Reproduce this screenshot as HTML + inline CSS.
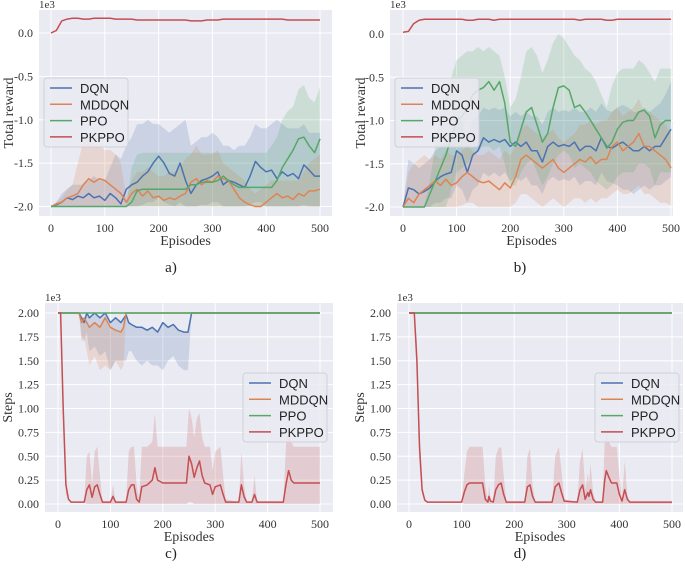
<!DOCTYPE html>
<html><head><meta charset="utf-8"><style>
body{margin:0;background:#fff;}
svg{display:block;font-family:"Liberation Serif",serif;}
</style></head><body>
<svg id="fig" width="685" height="573" viewBox="0 0 685 573" xmlns="http://www.w3.org/2000/svg"></svg>
<script>
// ---------- data (reward values in 1e3 units, steps in 1e3 units) ----------
const epsA = [0,10,20,30,40,50,60,70,80,90,100,110,120,130,140,150,160,170,180,190,200,210,220,230,240,250,260,270,280,290,300,310,320,330,340,350,360,370,380,390,400,410,420,430,440,450,460,470,480,490,500];
const aDQN = [-2.0,-1.98,-1.95,-1.9,-1.92,-1.88,-1.9,-1.85,-1.9,-1.88,-1.93,-1.85,-1.9,-1.97,-1.8,-1.75,-1.72,-1.65,-1.6,-1.5,-1.42,-1.5,-1.62,-1.65,-1.5,-1.7,-1.85,-1.75,-1.7,-1.68,-1.65,-1.6,-1.75,-1.7,-1.72,-1.75,-1.78,-1.65,-1.48,-1.55,-1.6,-1.58,-1.68,-1.6,-1.65,-1.62,-1.68,-1.52,-1.58,-1.65,-1.65];
const aDQNhi = [-2.0,-1.95,-1.85,-1.8,-1.75,-1.75,-1.75,-1.7,-1.65,-1.7,-1.7,-1.55,-1.4,-1.45,-1.3,-1.2,-1.05,-1.05,-1.0,-1.05,-1.05,-1.1,-1.15,-1.1,-1.05,-1.0,-1.3,-1.25,-1.2,-1.2,-1.15,-1.2,-1.3,-1.3,-1.35,-1.3,-1.3,-1.2,-1.05,-1.1,-1.1,-1.05,-1.0,-1.05,-1.1,-1.1,-1.1,-1.05,-1.15,-1.15,-1.15];
const aDQNlo = [-2.0,-2.0,-2.0,-2.0,-2.0,-2.0,-2.0,-2.0,-2.0,-2.0,-2.0,-2.0,-2.0,-2.0,-2.0,-2.0,-2.0,-1.98,-1.95,-1.95,-1.9,-1.95,-1.98,-2.0,-1.95,-2.0,-2.0,-2.0,-1.98,-1.98,-1.95,-1.95,-2.0,-2.0,-2.0,-2.0,-2.0,-1.98,-1.95,-1.95,-2.0,-2.0,-2.0,-2.0,-2.0,-2.0,-2.0,-1.98,-2.0,-2.0,-2.0];
const aMD = [-2.0,-1.97,-1.95,-1.9,-1.88,-1.85,-1.75,-1.68,-1.72,-1.68,-1.7,-1.75,-1.8,-1.85,-1.95,-1.85,-1.8,-1.88,-1.82,-1.9,-1.88,-1.93,-1.9,-1.92,-1.88,-1.85,-1.72,-1.68,-1.75,-1.7,-1.72,-1.65,-1.68,-1.7,-1.8,-1.9,-1.95,-1.98,-2.0,-2.0,-1.95,-1.9,-1.85,-1.9,-1.88,-1.92,-1.85,-1.88,-1.82,-1.82,-1.8];
const aMDhi = [-2.0,-1.95,-1.9,-1.8,-1.75,-1.5,-1.25,-1.2,-1.3,-1.3,-1.35,-1.35,-1.4,-1.5,-1.9,-1.7,-1.6,-1.6,-1.55,-1.6,-1.65,-1.65,-1.6,-1.6,-1.55,-1.45,-1.4,-1.3,-1.4,-1.4,-1.4,-1.35,-1.5,-1.55,-1.6,-1.65,-1.7,-1.8,-1.85,-1.8,-1.75,-1.7,-1.7,-1.7,-1.7,-1.7,-1.7,-1.6,-1.5,-1.45,-1.4];
const aMDlo = [-2.0,-2.0,-2.0,-2.0,-2.0,-2.0,-2.0,-2.0,-2.0,-2.0,-2.0,-2.0,-2.0,-2.0,-2.0,-2.0,-2.0,-2.0,-2.0,-2.0,-2.0,-2.0,-2.0,-2.0,-2.0,-2.0,-2.0,-2.0,-2.0,-2.0,-2.0,-2.0,-2.0,-2.0,-2.0,-2.0,-2.0,-2.0,-2.0,-2.0,-2.0,-2.0,-2.0,-2.0,-2.0,-2.0,-2.0,-2.0,-2.0,-2.0,-2.0];
const aPPO = [-2.0,-2.0,-2.0,-2.0,-2.0,-2.0,-2.0,-2.0,-2.0,-2.0,-2.0,-2.0,-2.0,-2.0,-2.0,-1.95,-1.82,-1.8,-1.8,-1.8,-1.8,-1.8,-1.8,-1.8,-1.8,-1.8,-1.75,-1.75,-1.72,-1.72,-1.72,-1.7,-1.65,-1.7,-1.75,-1.78,-1.78,-1.78,-1.78,-1.78,-1.78,-1.78,-1.7,-1.55,-1.45,-1.35,-1.22,-1.2,-1.3,-1.38,-1.22];
const aPPOhi = [-2.0,-2.0,-2.0,-2.0,-2.0,-2.0,-2.0,-2.0,-2.0,-2.0,-2.0,-2.0,-2.0,-2.0,-2.0,-1.55,-1.4,-1.38,-1.38,-1.38,-1.38,-1.38,-1.38,-1.38,-1.38,-1.38,-1.38,-1.38,-1.38,-1.38,-1.38,-1.38,-1.38,-1.38,-1.38,-1.38,-1.38,-1.38,-1.38,-1.38,-1.38,-1.3,-1.2,-1.0,-0.9,-0.85,-0.65,-0.6,-0.75,-0.8,-0.62];
const aPPOlo = [-2.0,-2.0,-2.0,-2.0,-2.0,-2.0,-2.0,-2.0,-2.0,-2.0,-2.0,-2.0,-2.0,-2.0,-2.0,-2.0,-2.0,-2.0,-2.0,-2.0,-2.0,-2.0,-2.0,-2.0,-2.0,-2.0,-2.0,-2.0,-2.0,-2.0,-2.0,-2.0,-2.0,-2.0,-2.0,-2.0,-2.0,-2.0,-2.0,-2.0,-2.0,-2.0,-2.0,-2.0,-2.0,-2.0,-2.0,-2.0,-2.0,-2.0,-2.0];
const aPK = [0.0,0.03,0.14,0.16,0.17,0.17,0.16,0.16,0.17,0.17,0.17,0.17,0.16,0.16,0.16,0.16,0.15,0.15,0.15,0.15,0.15,0.15,0.15,0.15,0.15,0.15,0.14,0.14,0.14,0.15,0.15,0.15,0.16,0.16,0.16,0.16,0.16,0.16,0.16,0.16,0.16,0.16,0.16,0.16,0.15,0.15,0.15,0.15,0.15,0.15,0.15];

const bDQN = [-2.0,-1.78,-1.8,-1.85,-1.82,-1.78,-1.7,-1.65,-1.62,-1.6,-1.35,-1.4,-1.6,-1.4,-1.35,-1.2,-1.25,-1.22,-1.25,-1.22,-1.3,-1.25,-1.3,-1.25,-1.35,-1.35,-1.48,-1.3,-1.25,-1.3,-1.28,-1.3,-1.25,-1.35,-1.3,-1.3,-1.35,-1.2,-1.3,-1.32,-1.28,-1.25,-1.3,-1.35,-1.35,-1.3,-1.35,-1.3,-1.3,-1.2,-1.1];
const bDQNhi = [-2.0,-1.45,-1.5,-1.55,-1.5,-1.45,-1.35,-1.3,-1.25,-1.2,-0.95,-1.0,-1.2,-1.0,-0.95,-0.85,-0.88,-0.85,-0.88,-0.85,-0.95,-0.9,-0.95,-0.9,-0.95,-0.95,-1.05,-0.9,-0.85,-0.9,-0.88,-0.9,-0.85,-0.9,-0.9,-0.85,-0.9,-0.8,-0.88,-0.9,-0.85,-0.82,-0.85,-0.9,-0.9,-0.85,-0.9,-0.85,-0.8,-0.7,-0.55];
const bDQNlo = [-2.0,-2.0,-2.0,-2.0,-2.0,-2.0,-1.95,-1.95,-1.9,-1.9,-1.75,-1.8,-1.95,-1.8,-1.75,-1.6,-1.65,-1.6,-1.65,-1.6,-1.7,-1.65,-1.7,-1.65,-1.75,-1.75,-1.85,-1.7,-1.65,-1.7,-1.68,-1.7,-1.65,-1.75,-1.7,-1.7,-1.75,-1.6,-1.7,-1.72,-1.75,-1.8,-1.8,-1.85,-1.8,-1.75,-1.8,-1.75,-1.75,-1.7,-1.65];
const bMD = [-2.0,-1.9,-1.95,-1.85,-1.8,-1.75,-1.7,-1.75,-1.68,-1.75,-1.72,-1.65,-1.6,-1.65,-1.7,-1.72,-1.7,-1.75,-1.8,-1.72,-1.78,-1.65,-1.45,-1.4,-1.45,-1.5,-1.55,-1.5,-1.45,-1.55,-1.6,-1.55,-1.5,-1.45,-1.48,-1.42,-1.5,-1.45,-1.45,-1.3,-1.25,-1.35,-1.3,-1.25,-1.15,-1.3,-1.3,-1.35,-1.4,-1.45,-1.55];
const bMDhi = [-2.0,-1.6,-1.5,-1.45,-1.4,-1.45,-1.4,-1.45,-1.35,-1.4,-1.4,-1.35,-1.3,-1.35,-1.4,-1.4,-1.35,-1.4,-1.45,-1.35,-1.4,-1.3,-1.1,-1.05,-1.1,-1.15,-1.2,-1.15,-1.1,-1.2,-1.25,-1.2,-1.15,-1.05,-1.05,-1.0,-1.05,-1.0,-1.0,-0.9,-0.85,-0.95,-0.9,-0.85,-0.75,-0.9,-0.9,-0.95,-1.0,-1.05,-1.15];
const bMDlo = [-2.0,-2.0,-2.0,-2.0,-2.0,-2.0,-2.0,-2.0,-2.0,-2.0,-2.0,-1.98,-1.95,-1.95,-2.0,-2.0,-2.0,-2.0,-2.0,-2.0,-2.0,-1.95,-1.85,-1.85,-1.9,-1.95,-2.0,-1.95,-1.9,-1.95,-2.0,-1.95,-1.9,-1.9,-1.95,-1.9,-1.95,-1.9,-1.9,-1.85,-1.8,-1.85,-1.85,-1.8,-1.75,-1.85,-1.85,-1.9,-1.95,-1.95,-1.98];
const bPPO = [-2.0,-2.0,-2.0,-2.0,-2.0,-1.85,-1.7,-1.55,-1.4,-1.2,-1.0,-0.95,-0.85,-0.7,-0.65,-0.62,-0.55,-0.65,-0.55,-0.8,-1.25,-1.3,-1.1,-0.9,-0.85,-1.05,-1.25,-1.15,-0.85,-0.62,-0.6,-0.65,-0.85,-0.82,-0.9,-1.0,-1.1,-1.2,-1.32,-1.25,-1.1,-1.02,-1.0,-1.0,-0.9,-0.88,-0.95,-1.2,-1.05,-1.0,-1.0];
const bPPOhi = [-2.0,-2.0,-2.0,-2.0,-2.0,-1.7,-1.3,-0.9,-0.7,-0.5,-0.3,-0.25,-0.2,-0.2,-0.15,-0.2,-0.15,-0.2,-0.25,-0.5,-0.85,-0.75,-0.5,-0.2,-0.15,-0.25,-0.45,-0.3,-0.1,0.0,-0.05,-0.15,-0.25,-0.3,-0.4,-0.45,-0.55,-0.7,-0.85,-0.6,-0.45,-0.4,-0.4,-0.4,-0.3,-0.35,-0.45,-0.55,-0.4,-0.4,-0.4];
const bPPOlo = [-2.0,-2.0,-2.0,-2.0,-2.0,-2.0,-2.0,-2.0,-2.0,-1.8,-1.6,-1.55,-1.5,-1.4,-1.35,-1.3,-1.3,-1.35,-1.3,-1.5,-1.75,-1.75,-1.6,-1.5,-1.45,-1.6,-1.75,-1.65,-1.5,-1.4,-1.35,-1.4,-1.55,-1.5,-1.55,-1.6,-1.7,-1.75,-1.8,-1.75,-1.65,-1.6,-1.6,-1.6,-1.5,-1.5,-1.55,-1.75,-1.6,-1.6,-1.6];
const bPK = [0.02,0.03,0.12,0.16,0.17,0.17,0.17,0.17,0.17,0.17,0.17,0.17,0.16,0.16,0.17,0.17,0.17,0.16,0.17,0.17,0.17,0.17,0.17,0.17,0.17,0.17,0.17,0.17,0.17,0.17,0.17,0.17,0.17,0.16,0.17,0.17,0.17,0.17,0.16,0.16,0.17,0.17,0.17,0.17,0.17,0.17,0.17,0.17,0.17,0.17,0.17];

const epsCPK = [0,5,10,15,20,25,50,55,60,65,70,75,80,85,100,105,110,130,135,140,145,150,155,160,170,180,185,190,200,245,250,255,260,265,270,275,280,290,295,300,310,315,320,345,350,355,360,370,375,380,430,435,440,445,450,500];
const cPK   = [2.0,2.0,1.0,0.2,0.05,0.02,0.02,0.15,0.2,0.07,0.18,0.2,0.1,0.02,0.02,0.08,0.02,0.02,0.15,0.2,0.2,0.05,0.02,0.18,0.2,0.25,0.38,0.25,0.22,0.22,0.5,0.42,0.28,0.38,0.45,0.3,0.22,0.2,0.1,0.18,0.2,0.1,0.02,0.02,0.2,0.08,0.02,0.02,0.1,0.02,0.02,0.2,0.35,0.25,0.22,0.22];
const cPKhi = [2.0,2.0,1.2,0.3,0.06,0.02,0.02,0.5,0.55,0.2,0.55,0.6,0.3,0.02,0.02,0.2,0.02,0.02,0.55,0.6,0.6,0.2,0.05,0.6,0.6,0.65,0.95,0.6,0.6,0.6,1.0,0.9,0.7,0.9,0.95,0.7,0.6,0.6,0.35,0.55,0.6,0.3,0.05,0.02,0.55,0.2,0.02,0.02,0.3,0.02,0.02,0.6,0.85,0.65,0.6,0.6];
const cPKlo = [2.0,2.0,0.8,0.1,0.04,0.02,0.02,0.0,0.0,0.0,0.0,0.0,0.0,0.0,0.0,0.0,0.0,0.0,0.0,0.0,0.0,0.0,0.0,0.0,0.0,0.0,0.0,0.0,0.0,0.0,0.02,0.02,0.0,0.0,0.0,0.0,0.0,0.0,0.0,0.0,0.0,0.0,0.0,0.0,0.0,0.0,0.0,0.0,0.0,0.0,0.0,0.0,0.0,0.0,0.0,0.0];
const epsCDQN = [0,40,45,50,55,60,70,80,90,100,110,120,130,135,140,150,160,170,180,190,200,210,220,230,240,248,255,500];
const cDQN   = [2.0,2.0,1.95,1.9,2.0,1.95,2.0,1.95,2.0,1.9,1.95,1.9,1.98,1.9,1.88,1.85,1.85,1.82,1.85,1.8,1.9,1.85,1.88,1.82,1.8,1.8,2.0,2.0];
const cDQNlo = [2.0,2.0,1.75,1.7,1.8,1.6,1.65,1.55,1.6,1.4,1.5,1.5,1.5,1.6,1.6,1.5,1.45,1.5,1.45,1.45,1.4,1.5,1.55,1.45,1.4,1.4,2.0,2.0];
const epsCMD = [0,40,45,50,60,70,80,90,100,110,120,125,130,500];
const cMD   = [2.0,2.0,1.9,1.95,1.85,1.9,1.85,1.95,1.85,1.82,1.8,1.85,2.0,2.0];
const cMDlo = [2.0,2.0,1.7,1.75,1.45,1.55,1.4,1.45,1.4,1.5,1.4,1.45,2.0,2.0];
const epsFlat = [0,500];
const flatPPO = [2.0,2.0];

const epsDPK = [0,10,15,20,25,30,35,100,105,110,115,140,145,150,152,155,160,165,170,175,180,185,220,225,230,235,240,272,278,285,290,295,320,325,330,335,340,342,345,350,355,368,372,375,380,385,395,400,405,410,415,420,500];
const dPK   = [2.0,2.0,1.5,0.6,0.15,0.04,0.02,0.02,0.12,0.2,0.22,0.22,0.05,0.02,0.08,0.03,0.02,0.15,0.2,0.22,0.1,0.02,0.02,0.18,0.2,0.08,0.02,0.02,0.18,0.22,0.12,0.03,0.02,0.15,0.2,0.05,0.12,0.08,0.15,0.05,0.02,0.02,0.25,0.35,0.28,0.22,0.22,0.1,0.03,0.15,0.05,0.02,0.02];
const dPKhi = [2.0,2.0,1.7,0.8,0.2,0.05,0.02,0.02,0.3,0.55,0.6,0.6,0.2,0.05,0.2,0.05,0.02,0.5,0.58,0.6,0.3,0.02,0.02,0.5,0.58,0.2,0.02,0.02,0.5,0.6,0.35,0.05,0.02,0.45,0.58,0.15,0.32,0.2,0.42,0.12,0.02,0.02,0.65,0.75,0.65,0.6,0.6,0.3,0.05,0.45,0.1,0.02,0.02];
const dPKlo = [2.0,2.0,1.3,0.4,0.1,0.03,0.02,0.02,0.0,0.0,0.0,0.0,0.0,0.0,0.0,0.0,0.0,0.0,0.0,0.0,0.0,0.0,0.0,0.0,0.0,0.0,0.0,0.0,0.0,0.0,0.0,0.0,0.0,0.0,0.0,0.0,0.0,0.0,0.0,0.0,0.0,0.0,0.0,0.0,0.0,0.0,0.0,0.0,0.0,0.0,0.0,0.0,0.0];

const xTicks = [0,100,200,300,400,500];
const rewardTicks = [0.0,-0.5,-1.0,-1.5,-2.0];
const rewardTickLabels = ["0.0","-0.5","-1.0","-1.5","-2.0"];
const stepTicks = [2.0,1.75,1.5,1.25,1.0,0.75,0.5,0.25,0.0];
const stepTickLabels = ["2.00","1.75","1.50","1.25","1.00","0.75","0.50","0.25","0.00"];
const legendNames = ["DQN","MDDQN","PPO","PKPPO"];

// ---------- drawing ----------
const NS = "http://www.w3.org/2000/svg";
const fig = document.getElementById("fig");
const COL = {DQN:"#4c72b0",MDDQN:"#dd8452",PPO:"#55a868",PKPPO:"#c44e52"};
function mk(tag, attrs, parent){const e=document.createElementNS(NS,tag);for(const k in attrs)e.setAttribute(k,attrs[k]);(parent||fig).appendChild(e);return e;}

function panel(p){
  const g = mk("g",{});
  
  
  const sx = ep => p.x0 + (ep/500)*(p.x500 - p.x0);
  const sy = v => p.yA + (v - p.vA)/(p.vB - p.vA)*(p.yB - p.yA);
  const bg = mk("rect",{x:p.L,y:p.T,width:p.R-p.L,height:p.B-p.T,fill:"#eaeaf2"},g);
  
  
  xTicks.forEach(t=>{
    mk("line",{x1:sx(t),x2:sx(t),y1:p.T,y2:p.B,stroke:"#fff","stroke-width":1},g);
    const tx = mk("text",{x:sx(t),y:p.B+16,"font-size":12,"text-anchor":"middle",fill:"#333"},g);
    tx.textContent = t;
    
    
  });
  p.yTicks.forEach((t,i)=>{
    mk("line",{x1:p.L,x2:p.R,y1:sy(t),y2:sy(t),stroke:"#fff","stroke-width":1},g);
    const ty = mk("text",{x:p.L-6,y:sy(t)+4,"font-size":12,"text-anchor":"end",fill:"#333"},g);
    ty.textContent = p.yLabels[i];
    
    
  });
  const ex = mk("text",{x:p.L,y:p.T-2,"font-size":11,fill:"#333"},g);
  ex.textContent = "1e3";
  
  
  const xl = mk("text",{x:(p.L+p.R)/2,y:p.B+29,"font-size":14,"text-anchor":"middle",fill:"#333"},g);
  xl.textContent = "Episodes";
  
  
  const yl = mk("text",{x:0,y:0,"font-size":14,"text-anchor":"middle",fill:"#333",transform:`translate(${p.ylx},${(p.T+p.B)/2}) rotate(-90)`},g);
  yl.textContent = p.ytitle;
  
  
  const cap = mk("text",{x:p.capX,y:p.capY,"font-size":15,"text-anchor":"middle",fill:"#222"},g);
  cap.textContent = p.caption;
  
  
  // bands
  p.series.forEach(s=>{
    if(!s.hi && !s.lo) return;
    const hi = s.hi || s.y, lo = s.lo || s.y;
    let d = "M" + s.x.map((e,i)=>sx(e).toFixed(1)+","+sy(hi[i]).toFixed(1)).join("L");
    for(let i=s.x.length-1;i>=0;i--) d += "L"+sx(s.x[i]).toFixed(1)+","+sy(lo[i]).toFixed(1);
    const b = mk("path",{d:d+"Z",fill:COL[s.k],"fill-opacity":0.2,stroke:"none"},g);
    
    
  });
  p.series.forEach(s=>{
    const d = "M" + s.x.map((e,i)=>sx(e).toFixed(1)+","+sy(s.y[i]).toFixed(1)).join("L");
    const l = mk("path",{d:d,fill:"none",stroke:COL[s.k],"stroke-width":1.5,"stroke-linejoin":"round"},g);
    
    
  });
  // legend
  const lg = mk("g",{},g);
  
  
  mk("rect",{x:p.lgX,y:p.lgY,width:84,height:69,rx:3,fill:"#eaeaf2","fill-opacity":0.85,stroke:"#d0d0d8"},lg);
  legendNames.forEach((n,i)=>{
    const yy = p.lgY + 10 + i*16.3;
    mk("line",{x1:p.lgX+6,x2:p.lgX+28,y1:yy,y2:yy,stroke:COL[n],"stroke-width":1.5},lg);
    const t = mk("text",{x:p.lgX+36,y:yy+5,"font-size":13,"font-family":"Liberation Sans, sans-serif",fill:"#222"},lg);
    t.textContent = n;
    
    
  });
}

panel({name:"panel-a",L:39,R:332,T:10,B:216,x0:51,x500:320,vA:0,yA:33,vB:-2,yB:206.5,
  yTicks:rewardTicks,yLabels:rewardTickLabels,ytitle:"Total reward",ylx:13,caption:"a)",capX:171,capY:272,lgX:44,lgY:78,
  series:[{k:"DQN",x:epsA,y:aDQN,hi:aDQNhi,lo:aDQNlo},{k:"MDDQN",x:epsA,y:aMD,hi:aMDhi,lo:aMDlo},{k:"PPO",x:epsA,y:aPPO,hi:aPPOhi,lo:aPPOlo},{k:"PKPPO",x:epsA,y:aPK}]});
panel({name:"panel-b",L:390,R:673,T:10,B:216,x0:403,x500:671,vA:0,yA:34,vB:-2,yB:207,
  yTicks:rewardTicks,yLabels:rewardTickLabels,ytitle:"Total reward",ylx:365,caption:"b)",capX:520,capY:272,lgX:395,lgY:78,
  series:[{k:"DQN",x:epsA,y:bDQN,hi:bDQNhi,lo:bDQNlo},{k:"MDDQN",x:epsA,y:bMD,hi:bMDhi,lo:bMDlo},{k:"PPO",x:epsA,y:bPPO,hi:bPPOhi,lo:bPPOlo},{k:"PKPPO",x:epsA,y:bPK}]});
panel({name:"panel-c",L:45,R:333,T:303,B:512,x0:58,x500:320,vA:2,yA:313,vB:0,yB:504,
  yTicks:stepTicks,yLabels:stepTickLabels,ytitle:"Steps",ylx:12,caption:"c)",capX:171,capY:558,lgX:243,lgY:373,
  series:[{k:"DQN",x:epsCDQN,y:cDQN,lo:cDQNlo},{k:"MDDQN",x:epsCMD,y:cMD,lo:cMDlo},{k:"PPO",x:epsFlat,y:flatPPO},{k:"PKPPO",x:epsCPK,y:cPK,hi:cPKhi,lo:cPKlo}]});
panel({name:"panel-d",L:397,R:683,T:303,B:512,x0:409,x500:672,vA:2,yA:313,vB:0,yB:504,
  yTicks:stepTicks,yLabels:stepTickLabels,ytitle:"Steps",ylx:364,caption:"d)",capX:520,capY:558,lgX:595,lgY:373,
  series:[{k:"DQN",x:epsFlat,y:flatPPO},{k:"MDDQN",x:epsFlat,y:flatPPO},{k:"PPO",x:epsFlat,y:flatPPO},{k:"PKPPO",x:epsDPK,y:dPK,hi:dPKhi,lo:dPKlo}]});
</script>
</body></html>
